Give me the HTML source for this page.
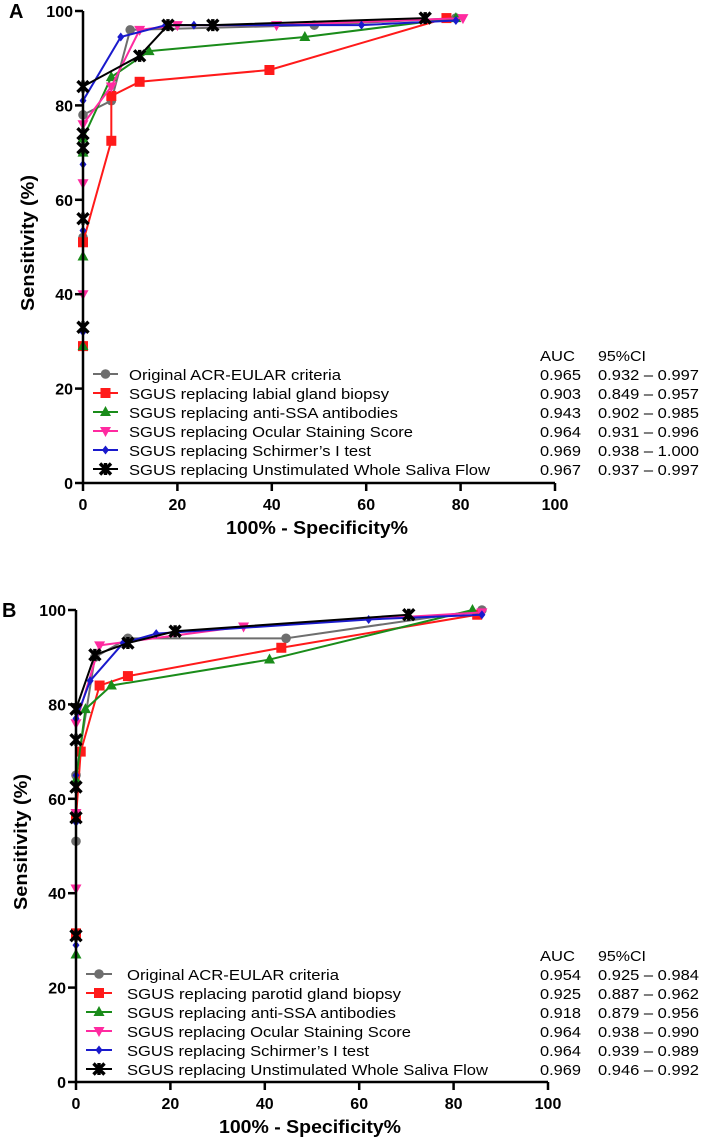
<!DOCTYPE html>
<html><head><meta charset="utf-8"><style>
html,body{margin:0;padding:0;background:#fff;}
svg{display:block;}
text{font-family:"Liberation Sans",Arial,sans-serif;}
</style></head><body>
<svg id="chart" width="702" height="1141" viewBox="0 0 702 1141" xmlns="http://www.w3.org/2000/svg"></svg>
<script>
// ---- data ----
const xTicks = [0,20,40,60,80,100];
const yTicks = [0,20,40,60,80,100];
const seriesNames = ["original","labial","antissa","ocular","schirmer","saliva"];
const colors = ["#6e6e6e","#ff1a1a","#1a8c1a","#ff2aa0","#1a1acc","#000000"];
const markers = ["circle","square","triUp","triDown","diamond","cross"];
const aLabels = ["Original ACR-EULAR criteria","SGUS replacing labial gland biopsy","SGUS replacing anti-SSA antibodies","SGUS replacing Ocular Staining Score","SGUS replacing Schirmer\u2019s I test","SGUS replacing Unstimulated Whole Saliva Flow"];
const bLabels = ["Original ACR-EULAR criteria","SGUS replacing parotid gland biopsy","SGUS replacing anti-SSA antibodies","SGUS replacing Ocular Staining Score","SGUS replacing Schirmer\u2019s I test","SGUS replacing Unstimulated Whole Saliva Flow"];
const aAUC = ["0.965","0.903","0.943","0.964","0.969","0.967"];
const aCI = ["0.932 \u2013 0.997","0.849 \u2013 0.957","0.902 \u2013 0.985","0.931 \u2013 0.996","0.938 \u2013 1.000","0.937 \u2013 0.997"];
const bAUC = ["0.954","0.925","0.918","0.964","0.964","0.969"];
const bCI = ["0.925 \u2013 0.984","0.887 \u2013 0.962","0.879 \u2013 0.956","0.938 \u2013 0.990","0.939 \u2013 0.989","0.946 \u2013 0.992"];
// Panel A series [x,y]
const aOriginal = [[0,29],[0,52],[0,78],[6,81],[10,96],[49,97],[79,98.5]];
const aLabial = [[0,29],[0,51],[6,72.5],[6,82],[12,85],[39.5,87.5],[77,98.5]];
const aAntiSSA = [[0,29],[0,48],[0,70],[0,73],[6,86],[14,91.5],[47,94.5],[79,98.5]];
const aOcular = [[0,40],[0,63.5],[0,76],[6,84],[12,96],[20,97],[41,97],[80.5,98.5]];
const aSchirmer = [[0,32],[0,53.5],[0,67.5],[0,81],[8,94.5],[17.5,97],[23.5,97],[59,97],[79,98]];
const aSaliva = [[0,33],[0,56],[0,71],[0,74],[0,84],[12,90.5],[18,97],[27.5,97],[72.5,98.5]];
// Panel B series
const bOriginal = [[0,51],[0,65],[4,90],[11,94],[44.5,94],[86,100]];
const bParotid = [[0,31.5],[0,56],[1,70],[5,84],[11,86],[43.5,92],[85,99]];
const bAntiSSA = [[0,27],[0,64],[2,79],[7.5,84],[41,89.5],[84,100]];
const bOcular = [[0,41],[0,57],[0,76],[5,92.5],[35.5,96.5],[86,99.5]];
const bSchirmer = [[0,29],[0,55],[0,65],[0,77],[3,85],[10,93],[17,95],[62,98],[86,99]];
const bSaliva = [[0,31],[0,56],[0,62.5],[0,72.5],[0,79],[4,90.5],[11,93],[21,95.5],[70.5,99]];

const legendWidths = [212,260,269,284,242,361];
const legendWidthsB = [212,274,269,284,242,361];

const NS="http://www.w3.org/2000/svg";
const svg=document.getElementById('chart');
function mk(tag,attrs,parent){const e=document.createElementNS(NS,tag);for(const k in attrs)e.setAttribute(k,attrs[k]);(parent||svg).appendChild(e);return e;}

function marker(g,type,x,y,c){
  let e;
  if(type==="circle") e=mk('circle',{cx:x,cy:y,r:4.8,fill:c},g);
  else if(type==="square") e=mk('rect',{x:x-5,y:y-5,width:10,height:10,fill:c},g);
  else if(type==="triUp") e=mk('polygon',{points:`${x},${y-6} ${x+5.5},${y+4} ${x-5.5},${y+4}`,fill:c},g);
  else if(type==="triDown") e=mk('polygon',{points:`${x},${y+6} ${x+5.5},${y-4} ${x-5.5},${y-4}`,fill:c},g);
  else if(type==="diamond") e=mk('polygon',{points:`${x},${y-4.5} ${x+3.5},${y} ${x},${y+4.5} ${x-3.5},${y}`,fill:c},g);
  else { e=mk('path',{d:`M${x-5.5},${y-5.5}L${x+5.5},${y+5.5}M${x+5.5},${y-5.5}L${x-5.5},${y+5.5}M${x},${y-6}L${x},${y+6}`,stroke:c,'stroke-width':3.4,fill:'none'},g); }
  
  
}

function panel(p){
  const xs=v=>p.x0+(p.x1-p.x0)*v/100;
  const ys=v=>p.y0-(p.y0-p.y1)*v/100;
  const g=mk('g',{});
  
  
  const L=mk('text',{x:p.letterX,y:p.y1+7,'font-size':20,'font-weight':'bold'},g);L.textContent=p.letter;
  
  p.series.forEach((s,i)=>{
    const sg=mk('g',{},g);
    
    
    const pts=s.map(d=>xs(d[0])+','+ys(d[1])).join(' ');
    const pl=mk('polyline',{points:pts,fill:'none',stroke:colors[i],'stroke-width':2,'stroke-linejoin':'round'},sg);
    
    s.forEach(d=>marker(sg,markers[i],xs(d[0]),ys(d[1]),colors[i]));
  });
  const ax=mk('path',{d:`M${p.x0},${p.y1}L${p.x0},${p.y0}L${p.x1},${p.y0}`,stroke:'#000','stroke-width':2.5,fill:'none'},g);
  
  yTicks.forEach(t=>{
    mk('line',{x1:p.x0-8,x2:p.x0,y1:ys(t),y2:ys(t),stroke:'#000','stroke-width':2.5},g);
    const tx=mk('text',{x:p.x0-10,y:ys(t)+6,'font-size':16,'font-weight':'bold','text-anchor':'end'},g);tx.textContent=t;
    
  });
  xTicks.forEach(t=>{
    mk('line',{x1:xs(t),x2:xs(t),y1:p.y0,y2:p.y0+8,stroke:'#000','stroke-width':2.5},g);
    const tx=mk('text',{x:xs(t),y:p.y0+27,'font-size':16,'font-weight':'bold','text-anchor':'middle'},g);tx.textContent=t;
    
  });
  const xt=mk('text',{x:(p.x0+p.x1)/2-2,y:p.y0+51,'font-size':18,'font-weight':'bold','text-anchor':'middle',textLength:182,lengthAdjust:'spacingAndGlyphs'},g);
  xt.textContent='100% - Specificity%';
  
  const yt=mk('text',{x:0,y:0,'font-size':18,'font-weight':'bold','text-anchor':'middle',textLength:136,lengthAdjust:'spacingAndGlyphs',transform:`translate(${p.ytX},${(p.y0+p.y1)/2-4}) rotate(-90)`},g);
  yt.textContent='Sensitivity (%)';
  
  const lg=mk('g',{},g);
  
  const h1=mk('text',{x:540,y:p.legY-19+5,'font-size':15,textLength:35,lengthAdjust:'spacingAndGlyphs'},lg);h1.textContent='AUC';
  
  const h2=mk('text',{x:598,y:p.legY-19+5,'font-size':15,textLength:48,lengthAdjust:'spacingAndGlyphs'},lg);h2.textContent='95%CI';
  
  p.labels.forEach((lab,i)=>{
    const y=p.legY+i*19;
    const eg=mk('g',{},lg);
    
    mk('line',{x1:p.legMx0,x2:p.legMx1,y1:y-1,y2:y-1,stroke:colors[i],'stroke-width':2},eg);
    marker(eg,markers[i],(p.legMx0+p.legMx1)/2,y-1,colors[i]);
    const t=mk('text',{x:p.legTx,y:y+5,'font-size':15,textLength:p.lw[i],lengthAdjust:'spacingAndGlyphs'},eg);t.textContent=lab;
    const a=mk('text',{x:540,y:y+5,'font-size':15,textLength:41,lengthAdjust:'spacingAndGlyphs'},eg);a.textContent=p.auc[i];
    const c=mk('text',{x:598,y:y+5,'font-size':15,textLength:101,lengthAdjust:'spacingAndGlyphs'},eg);c.textContent=p.ci[i];
  });
}

panel({name:'panel-a',letter:'A',letterX:9,x0:83,x1:555,y0:483,y1:11,ytX:34,
  series:[aOriginal,aLabial,aAntiSSA,aOcular,aSchirmer,aSaliva],labels:aLabels,auc:aAUC,ci:aCI,
  legY:375,legMx0:93,legMx1:118,legTx:129,lw:legendWidths});
panel({name:'panel-b',letter:'B',letterX:2,x0:76,x1:548,y0:1082,y1:610,ytX:27,
  series:[bOriginal,bParotid,bAntiSSA,bOcular,bSchirmer,bSaliva],labels:bLabels,auc:bAUC,ci:bCI,
  legY:975,legMx0:86,legMx1:112,legTx:127,lw:legendWidthsB});
</script>
</body></html>
